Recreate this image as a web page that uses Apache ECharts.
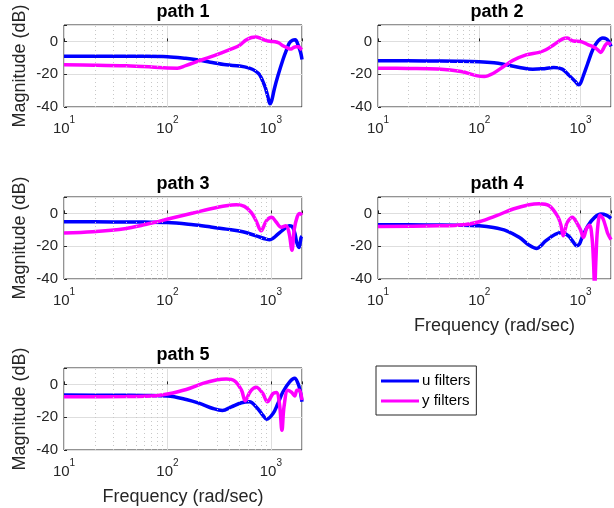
<!DOCTYPE html>
<html>
<head>
<meta charset="utf-8">
<script src="https://cdn.jsdelivr.net/npm/echarts@6/dist/echarts.min.js"></script>
<style>
html,body{margin:0;padding:0;background:#fff;}
#chart{width:614px;height:508px;}
</style>
</head>
<body>
<div id="chart"></div>
<script>
// ---------- data (frequency rad/sec, magnitude dB) ----------
const titles = ['path 1', 'path 2', 'path 3', 'path 4', 'path 5'];
const seriesNames = ['u filters', 'y filters'];
const xTickValues = [10, 100, 1000];
const yTickValues = [-40, -20, 0];
const minorGridFreqs = [20, 30, 40, 50, 60, 70, 80, 90, 200, 300, 400, 500, 600, 700, 800, 900];

const path1U = [[10,-9.0],[20,-9.0],[50,-9.1],[100,-9.3],[150,-10.3],[200,-11.4],[260,-12.7],[370,-14.3],[500,-15.0],[620,-16.3],[700,-17.8],[780,-20.4],[870,-27],[930,-33],[980,-38],[1020,-36],[1080,-29],[1170,-21],[1310,-11],[1420,-5],[1510,-1],[1620,0.7],[1720,1],[1830,-2],[1900,-5],[1960,-8],[2000,-11]];
const path1Y = [[10,-14.3],[20,-14.5],[40,-14.9],[70,-15.6],[100,-16.2],[125,-16.3],[150,-14.8],[200,-12],[300,-8],[430,-4.2],[500,-2.3],[575,0.8],[650,2.4],[720,2.7],[800,1.8],[900,0.5],[1000,0],[1100,-0.2],[1200,-1],[1310,-2.7],[1450,-4],[1570,-4.7],[1650,-3.8],[1750,-3.2],[1850,-3.3],[1950,-4.5],[2000,-5]];

const path2U = [[10,-11.8],[30,-11.9],[60,-12.1],[100,-12.4],[140,-13],[174,-13.9],[250,-15.9],[338,-17],[420,-16.7],[545,-15.9],[660,-16.9],[760,-20.3],[890,-24.5],[960,-26.5],[1000,-25.5],[1060,-21.4],[1180,-13.3],[1320,-5.1],[1480,0],[1660,2],[1790,1.6],[1900,0],[2000,-3]];
const path2Y = [[10,-16.3],[20,-16.5],[39,-16.9],[66,-18.4],[96,-21],[112,-21.4],[138,-19.4],[174,-15.3],[215,-11.6],[290,-8.2],[390,-6.7],[455,-5.1],[545,-2],[660,1.4],[740,2],[850,0.2],[1000,0],[1180,-2],[1380,-3.7],[1500,-5.5],[1590,-6.7],[1680,-4.5],[1740,-2.7],[1850,-1],[2000,-2]];

const path3U = [[10,-5.1],[30,-5.2],[60,-5.3],[100,-5.5],[178,-6.9],[257,-8.2],[371,-9.6],[535,-11.2],[720,-13.7],[900,-15.7],[975,-16.1],[1050,-15.2],[1120,-13.7],[1310,-10],[1450,-8],[1520,-7.6],[1630,-8.6],[1720,-13],[1780,-17.8],[1870,-20.8],[1930,-17],[1960,-14.7],[2000,-14]];
const path3Y = [[10,-12],[19,-11.2],[40,-9.2],[58,-7.1],[84,-4.7],[122,-2.2],[177,0.2],[256,2.7],[370,4.7],[464,5.3],[555,4.3],[645,0.6],[720,-4.5],[805,-10.6],[905,-4.5],[1020,-2.4],[1120,-5.1],[1260,-8.5],[1400,-7.5],[1500,-12],[1600,-22.5],[1680,-10],[1800,-2],[1910,0],[2000,-1]];

const path4U = [[10,-6.9],[30,-7],[60,-7.2],[100,-7.6],[138,-8.6],[186,-10.6],[250,-14.7],[311,-19.4],[370,-21.4],[410,-19.5],[453,-16.7],[564,-12.7],[655,-11.6],[760,-13.7],[850,-17.5],[915,-19.8],[980,-18.5],[1020,-15.7],[1180,-7.6],[1380,-2.4],[1590,-0.4],[1790,-1],[2000,-3]];
const path4Y = [[10,-8],[39,-7.6],[71,-6.9],[100,-5.1],[148,-1.4],[216,2.7],[311,5.3],[390,5.9],[490,4.7],[590,-1.4],[640,-7],[675,-13.7],[710,-9],[740,-5.5],[830,-2.4],[915,-5.5],[1000,-10],[1070,-14.7],[1150,-9],[1230,-7.3],[1300,-15],[1340,-28],[1380,-45],[1420,-28],[1470,-10],[1560,-1.2],[1660,-3],[1790,-9],[1850,-12],[2000,-16]];

const path5U = [[10,-6.5],[30,-6.6],[60,-6.8],[100,-7.1],[152,-9.2],[205,-11.6],[276,-14.7],[340,-15.9],[415,-13.7],[520,-11.2],[620,-10.6],[745,-14.7],[835,-18.8],[910,-21.2],[1050,-17.8],[1170,-11.6],[1310,-4.5],[1520,1.6],[1700,3.8],[1830,0.6],[1920,-4],[2000,-10.6]];
const path5Y = [[10,-7.6],[40,-7.4],[78,-6.9],[100,-5.9],[152,-3.1],[220,0.6],[296,2.7],[370,3.3],[445,2.2],[520,-3.5],[565,-10],[630,-4.5],[720,-1.8],[835,-5.5],[925,-10.6],[1050,-5.5],[1130,-4.9],[1210,-11.6],[1280,-28],[1340,-13.7],[1460,-3.5],[1590,-4.9],[1700,-7.1],[1790,-3.5],[1890,-3.5],[2000,-9.6]];

const uData = [path1U, path2U, path3U, path4U, path5U];
const yData = [path1Y, path2Y, path3Y, path4Y, path5Y];

// ---------- layout / style ----------
const FONT = '"Liberation Sans", Arial, Helvetica, sans-serif';
const AXC = '#262626';
const grids = [
  {left: 64, top: 25, width: 238, height: 82},
  {left: 378, top: 25, width: 238, height: 82},
  {left: 64, top: 197, width: 238, height: 82},
  {left: 378, top: 197, width: 238, height: 82},
  {left: 64, top: 368, width: 238, height: 82}
];
const colors = ['#0000ff', '#ff00ff'];

function logLabel(v) {
  const e = Math.round(Math.log10(v));
  if (Math.abs(Math.pow(10, e) - v) > 1e-6 * v) return '';
  if (xTickValues.indexOf(Math.pow(10, e)) < 0) return '';
  return '{b|10}{s|' + e + '}';
}

const option = {
  animation: false,
  backgroundColor: '#fff',
  textStyle: {fontFamily: FONT},
  title: titles.map((t, i) => ({
    text: t,
    left: grids[i].left + grids[i].width / 2,
    top: grids[i].top - 22,
    textAlign: 'center',
    padding: 0,
    textStyle: {fontSize: 18, fontWeight: 'bold', color: '#000', fontFamily: FONT}
  })),
  legend: {
    data: seriesNames,
    orient: 'vertical',
    left: 376,
    top: 366,
    padding: [6, 6, 5, 5],
    itemGap: 2,
    itemWidth: 38,
    itemHeight: 3,
    icon: 'rect',
    borderColor: AXC,
    borderWidth: 1,
    backgroundColor: '#fff',
    textStyle: {fontSize: 15, lineHeight: 18, color: '#000', fontFamily: FONT, padding: [0, 0, 0, -2]}
  },
  grid: grids.map(g => Object.assign({show: true, borderColor: AXC, borderWidth: 1, backgroundColor: '#fff'}, g)),
  xAxis: grids.map((g, i) => ({
    type: 'log',
    logBase: 10,
    gridIndex: i,
    min: 10,
    max: 2000,
    axisLine: {show: false},
    axisTick: {show: true, inside: true, length: 3, lineStyle: {color: AXC}},
    axisLabel: {
      formatter: logLabel,
      margin: 8,
      color: AXC,
      rich: {
        b: {fontSize: 15, color: AXC, fontFamily: FONT, lineHeight: 21, verticalAlign: 'bottom'},
        s: {fontSize: 10, color: AXC, fontFamily: FONT, lineHeight: 10, verticalAlign: 'top'}
      }
    },
    splitLine: {show: true, lineStyle: {color: '#dedede', width: 1}},
    name: (i === 3 || i === 4) ? 'Frequency (rad/sec)' : '',
    nameLocation: 'middle',
    nameGap: 38,
    nameTextStyle: {fontSize: 18, color: AXC, fontFamily: FONT}
  })),
  yAxis: grids.map((g, i) => ({
    type: 'value',
    gridIndex: i,
    min: -40,
    max: 10,
    interval: 20,
    axisLine: {show: false},
    axisTick: {show: true, inside: true, length: 3, lineStyle: {color: AXC}},
    axisLabel: {
      formatter: v => (yTickValues.indexOf(v) >= 0 ? String(v) : ''),
      fontSize: 15,
      color: AXC,
      margin: 6
    },
    splitLine: {show: true, lineStyle: {color: '#dedede', width: 1}},
    name: (i % 2 === 0) ? 'Magnitude (dB)' : '',
    nameLocation: 'middle',
    nameGap: 35,
    nameTextStyle: {fontSize: 18, color: AXC, fontFamily: FONT}
  })),
  series: []
};

grids.forEach((g, i) => {
  // minor (dotted) log grid lines
  option.series.push({
    name: 'minor grid ' + (i + 1),
    type: 'line',
    xAxisIndex: i,
    yAxisIndex: i,
    data: uData[i],
    symbol: 'none',
    silent: true,
    z: 1,
    lineStyle: {opacity: 0},
    markLine: {
      silent: true,
      symbol: ['none', 'none'],
      label: {show: false},
      lineStyle: {type: [1, 3], color: '#c8c8c8', width: 1},
      data: minorGridFreqs.map(v => ({xAxis: v}))
    }
  });
  [uData[i], yData[i]].forEach((d, k) => {
    option.series.push({
      name: seriesNames[k],
      type: 'line',
      xAxisIndex: i,
      yAxisIndex: i,
      data: d,
      symbol: 'none',
      smooth: 0.35,
      clip: true,
      z: 3,
      color: colors[k],
      lineStyle: {color: colors[k], width: 3.5}
    });
  });
});

const chart = echarts.init(document.getElementById('chart'), null, {renderer: 'canvas'});
chart.setOption(option);
</script>
</body>
</html>
